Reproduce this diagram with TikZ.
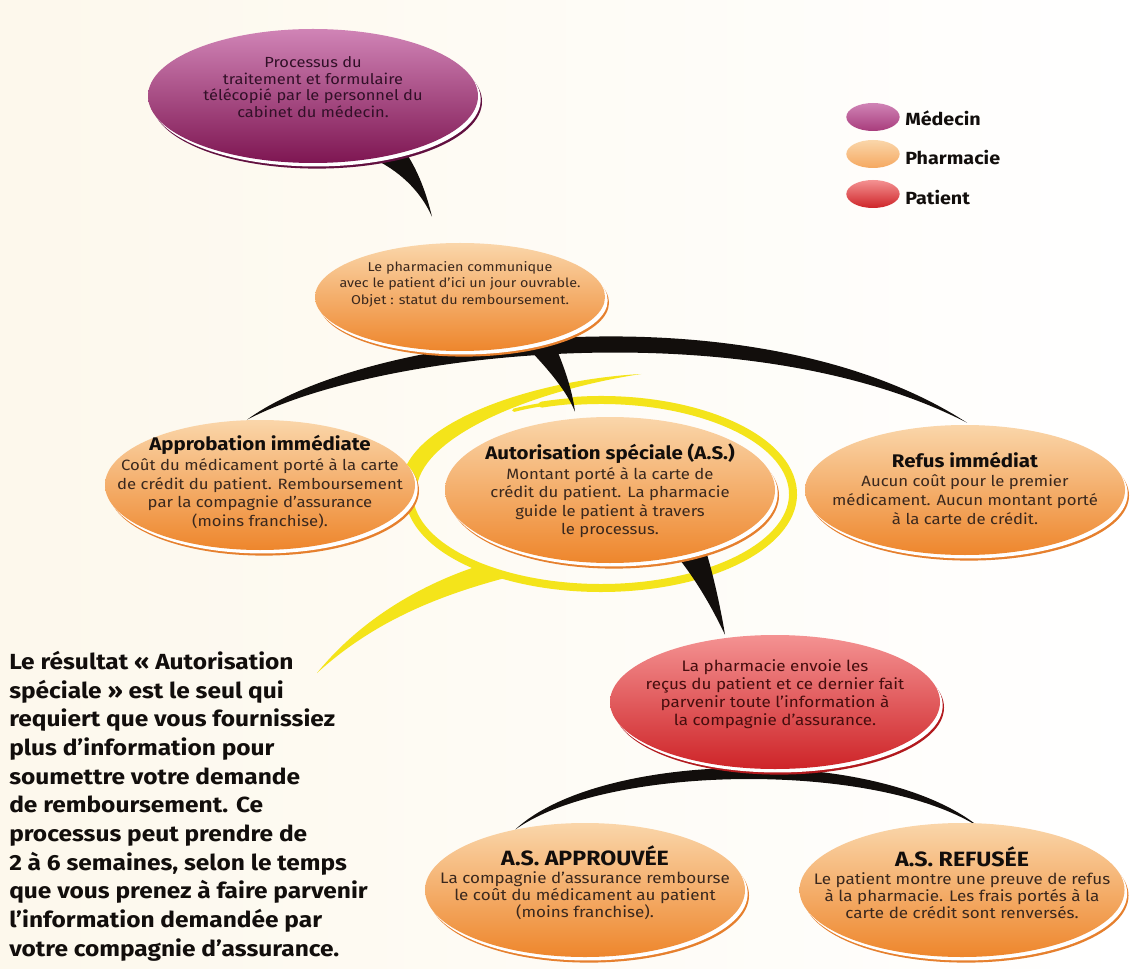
\documentclass[tikz,border=0pt]{standalone}
\usepackage{fontspec}
\setmainfont{Fira Sans}[FakeStretch=1.12]
\usetikzlibrary{shapes.geometric,calc,shadows}
\definecolor{orL}{RGB}{250,214,170}
\definecolor{orM}{RGB}{245,168,96}
\definecolor{orD}{RGB}{238,134,44}
\definecolor{orE}{RGB}{230,128,46}
\definecolor{puL}{RGB}{208,132,182}
\definecolor{puM}{RGB}{168,60,124}
\definecolor{puD}{RGB}{126,22,82}
\definecolor{puE}{RGB}{98,16,64}
\definecolor{reL}{RGB}{244,146,146}
\definecolor{reM}{RGB}{230,80,80}
\definecolor{reD}{RGB}{206,36,40}
\definecolor{reE}{RGB}{178,26,30}
\definecolor{ink}{RGB}{58,40,30}
\definecolor{ylw}{RGB}{244,228,26}
\definecolor{cream}{RGB}{253,248,236}
\definecolor{blk}{RGB}{18,14,12}
\newcommand\ttlf{\fontsize{13.7}{15}\selectfont\bfseries\color{blk}}
\newcommand\ttlc{\fontsize{15.5}{17}\selectfont\bfseries\color{blk}}
\begin{document}
\begin{tikzpicture}[x=0.75pt,y=-0.75pt,
  bub/.style={ellipse, inner sep=0pt},
  rim/.style={general shadow={fill=#1, shadow xshift=3pt, shadow yshift=-4.2pt},
              general shadow={fill=white, shadow xshift=2pt, shadow yshift=-2.6pt}},
  orb/.style={bub, top color=orL, middle color=orM, bottom color=orD, rim=orE},
  pub/.style={bub, top color=puL, middle color=puM, bottom color=puD, rim=puE},
  reb/.style={bub, top color=reL, middle color=reM, bottom color=reD, rim=reE},
  lgo/.style={bub, top color=orL, bottom color=orM, minimum width=40pt, minimum height=21pt},
  lgp/.style={bub, top color=puL, bottom color=puM, minimum width=40pt, minimum height=21pt},
  lgr/.style={bub, top color=reL, bottom color=reD, minimum width=40pt, minimum height=21pt},
  body/.style={align=center, text=ink, inner sep=0pt, font=\fontsize{11.2}{13.9}\selectfont},
  wedge/.style={fill=blk},
  ylwline/.style={draw=ylw, line cap=round},
  lgt/.style={anchor=west, inner sep=0pt, text=blk, font=\fontsize{13.2}{16}\selectfont\bfseries},
  para/.style={anchor=north west, align=left, inner sep=0pt, text=blk,
               font=\fontsize{16.4}{21.5}\selectfont\bfseries}
]
\useasboundingbox (0,0) rectangle (1130,969);
\fill[left color=cream, right color=white] (0,0) rectangle (1130,969);

% node positions
\coordinate (pmed) at (313,96);
\coordinate (pph1) at (460,297);
\coordinate (papp) at (260,485);
\coordinate (paut) at (610,490);
\coordinate (pref) at (965,490);
\coordinate (ppat) at (775,702);
\coordinate (pasa) at (585,890);
\coordinate (pasr) at (962,890);

% invisible shape nodes for geometry (bubbles drawn later)
\path (pph1) node[bub, minimum width=217.5pt, minimum height=81pt] (ph1g) {};
\path (papp) node[bub, minimum width=232.5pt, minimum height=97.5pt] (appg) {};
\path (pref) node[bub, minimum width=240pt, minimum height=97.5pt] (refg) {};
\path (ppat) node[bub, minimum width=247.5pt, minimum height=100.5pt] (patg) {};
\path (pasa) node[bub, minimum width=240pt, minimum height=100.5pt] (asag) {};
\path (pasr) node[bub, minimum width=243.75pt, minimum height=100.5pt] (asrg) {};
\path (paut) node[bub, minimum width=247.5pt, minimum height=109.5pt] (autg) {};
\path (pmed) node[bub, minimum width=247.5pt, minimum height=100.5pt] (medg) {};

% big black arcs
\coordinate (a1L) at ($(appg.north)+(-13,0)$);
\coordinate (a1R) at ($(refg.north)+(2,-2)$);
\fill[wedge] (a1L) .. controls ($(pph1)+(-90,33)$) and ($(pph1)+(300,-9)$) .. (a1R)
   .. controls ($(pph1)+(290,14)$) and ($(pph1)+(-80,53)$) .. (a1L) -- cycle;
\coordinate (a2L) at ($(asag.north)+(-70,7)$);
\coordinate (a2R) at ($(asrg.north)+(18,5)$);
\fill[wedge] (a2L) .. controls ($(ppat)+(-175,48)$) and ($(ppat)+(105,43)$) .. (a2R)
   .. controls ($(ppat)+(100,58)$) and ($(ppat)+(-170,63)$) .. (a2L) -- cycle;

% yellow spiral ring around the A.S. bubble
\coordinate (ring) at ($(paut)+(-9,4)$);
\draw[ylwline, line width=2.5pt] ($(ring)+(243:192 and 94)$) arc[start angle=243, end angle=256, x radius=192, y radius=94];
\draw[ylwline, line width=4.5pt] ($(ring)+(252:192 and 94)$) arc[start angle=252, end angle=266, x radius=192, y radius=94];
\draw[ylwline, line width=6pt] ($(ring)+(262:192 and 94)$) arc[start angle=262, end angle=546, x radius=192, y radius=94];
\fill[ylw] ($(ring)+(-200,-8)$) .. controls +(2,-62) and +(-110,6) .. ($(ring)+(40,-120)$)
   .. controls +(-105,16) and +(8,-52) .. ($(ring)+(-184,-8)$) -- cycle;
% yellow tail
\coordinate (ytip) at ($(ring)+(-284,179)$);
\fill[ylw] ($(ring)+(-123,72)$) .. controls +(-58,19) and +(43,-53) .. (ytip)
   .. controls +(53,-48) and +(-75,20) .. ($(ring)+(-96,84)$) -- cycle;

% tails
\coordinate (t1a) at ($(pmed)+(59,62)$);
\coordinate (t1b) at ($(pmed)+(95,60)$);
\coordinate (t1t) at ($(ph1g.north)+(-28,-26)$);
\fill[wedge] (t1a) .. controls +(26,12) and +(-12,-27) .. (t1t) .. controls +(-6,-25) and +(10,16) .. (t1b) -- cycle;
\coordinate (t2a) at ($(pph1)+(55,38)$);
\coordinate (t2b) at ($(pph1)+(90,38)$);
\coordinate (t2t) at ($(autg.north)+(-35,-5)$);
\fill[wedge] (t2a) .. controls +(25,25) and +(-10,-25) .. (t2t) .. controls +(-3,-25) and +(10,20) .. (t2b) -- cycle;
\coordinate (t3a) at ($(paut)+(62,60)$);
\coordinate (t3b) at ($(paut)+(95,58)$);
\coordinate (t3t) at ($(patg.north)+(-50,0)$);
\fill[wedge] (t3a) .. controls +(25,30) and +(-12,-25) .. (t3t) .. controls +(-4,-25) and +(8,25) .. (t3b) -- cycle;

% bubbles
\node[pub, minimum width=247.5pt, minimum height=100.5pt] (med) at (pmed) {};
\node[orb, minimum width=217.5pt, minimum height=81pt] (ph1) at (pph1) {};
\node[orb, minimum width=232.5pt, minimum height=97.5pt] (app) at (papp) {};
\node[orb, minimum width=247.5pt, minimum height=109.5pt] (aut) at (paut) {};
\node[orb, minimum width=240pt, minimum height=97.5pt] (ref) at (pref) {};
\node[reb, minimum width=247.5pt, minimum height=100.5pt] (pat) at (ppat) {};
\node[orb, minimum width=240pt, minimum height=100.5pt] (asa) at (pasa) {};
\node[orb, minimum width=243.75pt, minimum height=100.5pt] (asr) at (pasr) {};

% texts
\node[body, text={rgb,255:red,50;green,16;blue,40}, font=\fontsize{11}{12.5}\selectfont] (medt) at ($(med.center)+(0,-9)$)
  {Processus du\\traitement et formulaire\\télécopié par le personnel du\\cabinet du médecin.};
\node[body, font=\fontsize{9.6}{12.4}\selectfont] (ph1t) at ($(ph1.center)+(0,-13)$)
  {Le pharmacien communique\\avec le patient d’ici un jour ouvrable.\\Objet : statut du remboursement.};
\node[body] (appt) at ($(app.center)+(0,-3)$)
  {{\ttlf Approbation immédiate}\\[1pt]Coût du médicament porté à la carte\\de crédit du patient. Remboursement\\par la compagnie d’assurance\\(moins franchise).};
\node[body] (autt) at ($(aut.center)+(0,1)$)
  {{\ttlf Autorisation spéciale (A.S.)}\\[1pt]Montant porté à la carte de\\crédit du patient. La pharmacie\\guide le patient à travers\\le processus.};
\node[body] (reft) at ($(ref.center)+(0,-2)$)
  {{\ttlf Refus immédiat}\\[1pt]Aucun coût pour le premier\\médicament. Aucun montant porté\\à la carte de crédit.};
\node[body, text={rgb,255:red,70;green,14;blue,14}, font=\fontsize{11.4}{13.5}\selectfont] (patt) at ($(pat.center)+(0,-8)$)
  {La pharmacie envoie les\\reçus du patient et ce dernier fait\\parvenir toute l’information à\\la compagnie d’assurance.};
\node[body, font=\fontsize{11.4}{13}\selectfont] (asat) at ($(asa.center)+(0,-7)$)
  {{\ttlc A.S. APPROUVÉE}\\[0pt]La compagnie d’assurance rembourse\\le coût du médicament au patient\\(moins franchise).};
\node[body, font=\fontsize{11.4}{13}\selectfont] (asrt) at ($(asr.center)+(0,-7)$)
  {{\ttlc A.S. REFUSÉE}\\[0pt]Le patient montre une preuve de refus\\à la pharmacie. Les frais portés à la\\carte de crédit sont renversés.};

% legend
\node[lgp] (lm) at (873,117) {};
\node[lgo] (lp) at (873,154) {};
\node[lgr] (lr) at (873,194) {};
\node[lgt] (lmt) at (905,118) {Médecin};
\node[lgt] (lpt) at (905,158) {Pharmacie};
\node[lgt] (lrt) at (905,198) {Patient};

% note
\node[para] (note) at (9,651) {Le résultat « Autorisation\\spéciale » est le seul qui\\requiert que vous fournissiez\\plus d’information pour\\soumettre votre demande\\de remboursement. Ce\\processus peut prendre de\\2 à 6 semaines, selon le temps\\que vous prenez à faire parvenir\\l’information demandée par\\votre compagnie d’assurance.};
\end{tikzpicture}
\end{document}
